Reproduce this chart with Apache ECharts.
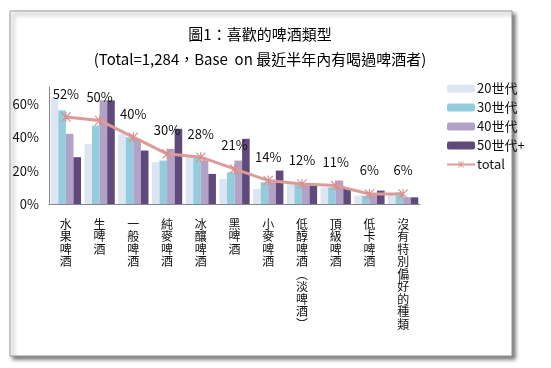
<!DOCTYPE html>
<html><head><meta charset="utf-8">
<script src="https://cdn.jsdelivr.net/npm/echarts@6/dist/echarts.min.js"></script>
<style>html,body{margin:0;padding:0;background:#fff;}#c{width:551px;height:368px;}</style>
</head><body><div id="c"></div>
<script>
const categories = ['水果啤酒','生啤酒','一般啤酒','純麥啤酒','冰釀啤酒','黑啤酒','小麥啤酒','低醇啤酒︵淡啤酒︶','頂級啤酒','低卡啤酒','沒有特別偏好的種類'];
const gen20 = [63, 36, 42, 25, 29, 15, 9, 12, 10, 5, 6];
const gen30 = [56, 47, 40, 26, 28, 19, 13, 13, 10, 5, 7];
const gen40 = [42, 62, 39, 33, 26, 26, 13, 12, 14, 6, 4];
const gen50 = [28, 62, 32, 45, 18, 39, 20, 11, 9, 8, 4];
const total = [52, 50, 40, 30, 28, 21, 14, 12, 11, 6, 6];
const yTicks = [0, 20, 40, 60];
const seriesNames = ['20世代','30世代','40世代','50世代+','total'];

const font = '"Noto Sans CJK TC","Noto Sans CJK SC",sans-serif';
const colors = ['#dce6f2','#93cddd','#b3a2c7','#604a7b'];
const star = 'path://M4.4,0L5.6,0L5.6,10L4.4,10Z M0,0.8L0.8,0L10,9.2L9.2,10Z M10,0.8L9.2,0L0,9.2L0.8,10Z';

const chart = echarts.init(document.getElementById('c'), null, {renderer:'canvas'});
const barSeries = [gen20, gen30, gen40, gen50].map((d, i) => ({
  name: seriesNames[i], type: 'bar', data: d, barGap: '0%', barCategoryGap: '10%',
  itemStyle: {color: colors[i]}, z: 2
}));
chart.setOption({
  animation: false,
  textStyle: {fontFamily: font},
  graphic: [{
    type: 'rect', shape: {x: 10, y: 11, width: 502, height: 345}, z: -10,
    style: {fill: '#fff', stroke: '#9a9a9a', lineWidth: 1, shadowBlur: 4, shadowOffsetX: 3, shadowOffsetY: 3, shadowColor: 'rgba(0,0,0,0.55)'}
  }],
  title: {
    text: '圖1：喜歡的啤酒類型\n(Total=1,284，Base  on 最近半年內有喝過啤酒者)',
    left: 260, top: 22, textAlign: 'center', padding: 0,
    textStyle: {fontFamily: font, fontSize: 15, fontWeight: 'normal', color: '#000', lineHeight: 25,
      rich: {}}
  },
  legend: {
    orient: 'vertical', left: 446, top: 82, itemWidth: 28, itemHeight: 8, itemGap: 6, padding: 0,
    data: seriesNames,
    textStyle: {fontFamily: font, fontSize: 13, color: '#111', lineHeight: 13, padding: [0,0,0,-3]}
  },
  grid: {left: 49, right: 131, top: 87, bottom: 164, containLabel: false},
  xAxis: {
    type: 'category', data: categories,
    axisLine: {lineStyle: {color: '#888'}}, axisTick: {show: false},
    axisLabel: {
      interval: 0, margin: 14, fontSize: 12, lineHeight: 12.5, color: '#111', verticalAlign: 'top',
      formatter: v => v.split('').join('\n')
    }
  },
  yAxis: {
    type: 'value', min: 0, max: 70, interval: 20,
    splitLine: {show: false}, axisTick: {show: false},
    axisLine: {show: true, lineStyle: {color: '#888'}},
    axisLabel: {fontSize: 13, color: '#111', margin: 10, showMaxLabel: false, formatter: v => yTicks.indexOf(v) >= 0 ? v + '%' : ''}
  },
  series: barSeries.concat([{
    name: 'total', type: 'line', data: total, z: 5,
    lineStyle: {color: '#dc9a98', width: 3},
    itemStyle: {color: '#d88e8c'},
    symbol: star, symbolSize: 10,
    label: {show: true, position: 'top', distance: 12, formatter: p => p.value + '%', fontSize: 13, color: '#111', fontFamily: font}
  }])
});
</script></body></html>
